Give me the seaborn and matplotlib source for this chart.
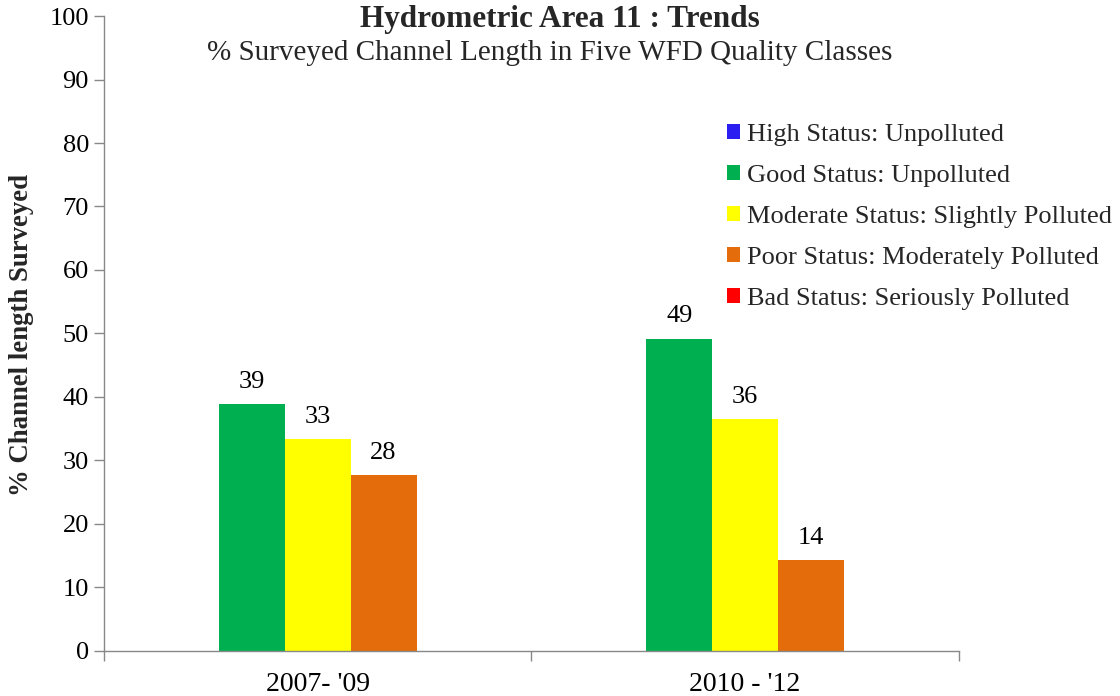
import matplotlib
matplotlib.use("Agg")
import matplotlib.pyplot as plt
import seaborn as sns
import pandas as pd
from matplotlib.patches import Patch

periods = ["2007- '09", "2010 - '12"]
classes = ["High Status: Unpolluted", "Good Status: Unpolluted",
           "Moderate Status: Slightly Polluted", "Poor Status: Moderately Polluted",
           "Bad Status: Seriously Polluted"]
high = [0, 0]
good = [38.9, 49.2]
moderate = [33.4, 36.5]
poor = [27.7, 14.3]
bad = [0, 0]
colors = ["#2A1FF0", "#00B050", "#FFFF00", "#E46C0A", "#FF0000"]

rows = []
for cls, vals in zip(classes, [high, good, moderate, poor, bad]):
    for p, v in zip(periods, vals):
        rows.append({"Period": p, "Class": cls, "Value": v})
df = pd.DataFrame(rows)

sns.set_theme(style="white")
plt.rcParams['font.family'] = ['Liberation Serif', 'DejaVu Serif']

fig = plt.figure(figsize=(11.2, 6.96), dpi=100)
ax = fig.add_axes([0.093, 0.0647, 0.763, 0.9123])

sns.barplot(data=df, x="Period", y="Value", hue="Class", order=periods,
            hue_order=classes, palette=colors, width=0.77, ax=ax,
            saturation=1, legend=False, linewidth=0)

for container in ax.containers:
    labels = [f"{v:.0f}" if v > 0 else "" for v in container.datavalues]
    ax.bar_label(container, labels=labels, padding=8, fontsize=19, color="black")

ax.set_ylim(0, 100)
ax.set_xlim(-0.5, 1.5)
ax.set_yticks(range(0, 101, 10))
ax.tick_params(axis='y', labelsize=19, length=7, width=1, color="#888888", left=True, pad=4)
ax.set_xticks([0, 1])
ax.set_xticklabels(periods)
ax.set_xticks([-0.5, 0.5, 1.5], minor=True)
ax.tick_params(axis='x', which='major', length=0, labelsize=20, pad=15)
ax.tick_params(axis='x', which='minor', length=7, width=1, color="#888888", bottom=True)
for s in ["top", "right"]:
    ax.spines[s].set_visible(False)
for s in ["left", "bottom"]:
    ax.spines[s].set_color("#888888")
    ax.spines[s].set_linewidth(1)
ax.set_xlabel("")
ax.set_ylabel("")
for lab in ax.get_yticklabels() + ax.get_xticklabels():
    lab.set_color("black")

fig.text(0.0196, 0.519, "% Channel length Surveyed", rotation=90, ha="center",
         va="center", fontsize=19.3, fontweight="bold")
fig.text(0.5, 0.972, "Hydrometric Area 11 : Trends", ha="center", va="center",
         fontsize=22.5, fontweight="bold")
fig.text(0.491, 0.924, "% Surveyed Channel Length in Five WFD Quality Classes",
         ha="center", va="center", fontsize=21)

handles = [Patch(facecolor=c, edgecolor="none") for c in colors]
leg = ax.legend(handles, classes, loc="upper left", bbox_to_anchor=(0.649, 0.822),
                bbox_transform=fig.transFigure,
                frameon=False, fontsize=19, handlelength=0.5, handleheight=0.5,
                handletextpad=0.25, labelspacing=0.72, borderaxespad=0, borderpad=0)

fig.savefig("out.png", dpi=100, facecolor="white")
